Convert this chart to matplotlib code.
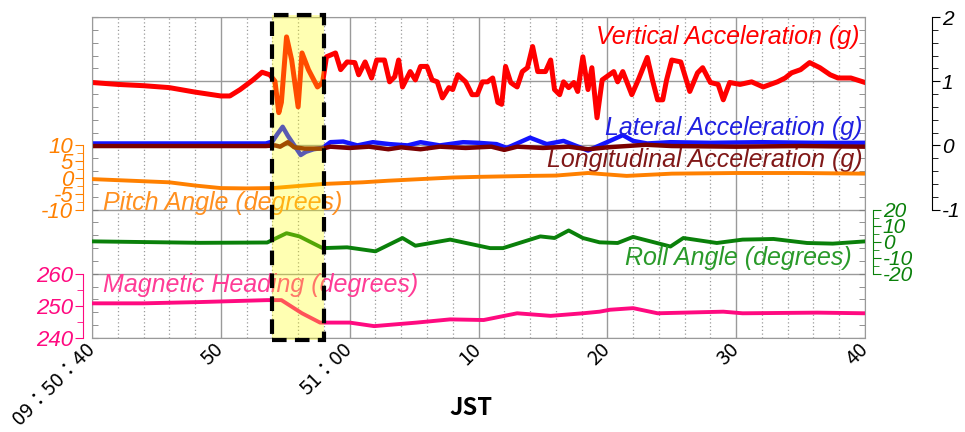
import matplotlib
matplotlib.use("Agg")
import matplotlib.pyplot as plt
from matplotlib.patches import Rectangle
from matplotlib.ticker import MultipleLocator, FixedLocator
import matplotlib.transforms as mtransforms

plt.rcParams["axes.unicode_minus"] = False

# seconds after 09:50:40 JST
vert_t = [0, 2, 4, 6, 8, 10, 10.7, 11.5, 12.5, 13.2, 13.8, 14.2, 14.5, 14.7, 15.1, 15.5, 16.0, 16.3,
          16.8, 17.5, 17.9, 18.2, 18.9, 19.3, 19.8, 20.4, 20.7, 21.2, 21.7, 22.1, 22.7, 23.1, 23.5,
          23.8, 24.1, 24.7, 25.1, 25.5, 26.0, 26.4, 26.8, 27.2, 27.7, 28.0, 28.4, 29.0, 29.5, 29.9,
          30.3, 30.7, 31.1, 31.5, 31.8, 32.1, 32.5, 32.7, 33.0, 33.4, 33.8, 34.2, 34.6, 35.2, 35.6,
          35.9, 36.3, 36.6, 37.0, 37.4, 37.7, 38.1, 38.5, 38.8, 39.2, 39.6, 40.5, 40.8, 41.2, 41.9,
          42.4, 43.1, 43.5, 43.9, 44.3, 44.6, 45.0, 45.7, 46.4, 47.0, 47.4, 48.0, 48.6, 49.0, 49.5,
          50.3, 51.2, 52.1, 53.2, 53.8, 54.3, 55.0, 55.7, 56.5, 57.3, 57.9, 58.9, 60.0]
vert_g = [0.98, 0.95, 0.93, 0.90, 0.83, 0.77, 0.77, 0.87, 1.02, 1.14, 1.10, 1.00, 0.51, 0.67, 1.69, 1.33,
          0.60, 1.44, 1.18, 0.91, 0.98, 1.38, 1.44, 1.18, 1.30, 1.29, 1.10, 1.30, 1.05, 1.33, 1.33,
          0.99, 1.07, 1.33, 0.91, 1.15, 1.02, 1.23, 1.23, 1.02, 0.99, 0.74, 0.90, 0.87, 1.10, 0.99,
          0.79, 0.79, 0.99, 0.99, 1.05, 0.67, 0.64, 1.23, 0.98, 0.95, 0.91, 1.15, 1.21, 1.54, 1.15,
          1.15, 1.33, 0.87, 0.79, 0.99, 0.90, 0.98, 0.84, 1.38, 0.87, 1.21, 0.43, 1.02, 1.15, 0.99,
          1.15, 0.79, 1.02, 1.37, 1.02, 0.71, 0.71, 1.02, 1.33, 1.30, 0.84, 1.13, 1.21, 0.98, 0.95,
          0.71, 0.98, 0.95, 0.99, 0.91, 0.99, 1.05, 1.13, 1.18, 1.29, 1.21, 1.10, 1.05, 1.05, 0.98]

lat_t = [0, 5, 10, 13.5, 14.0, 14.4, 14.8, 15.2, 15.7, 16.2, 16.6, 17.2, 17.9, 18.5, 19.5, 20.6, 21.8,
         23.1, 24.5, 25.5, 27.0, 28.8, 30.0, 31.4, 32.2, 34.0, 35.3, 36.6, 38.5, 40.2, 41.2, 42.0,
         43.1, 44.9, 48.0, 52.0, 56.0, 60.0]
lat_g = [0.03, 0.03, 0.03, 0.03, 0.06, 0.18, 0.29, 0.15, 0.0, -0.15, -0.10, -0.06, -0.04, 0.05, 0.06,
         0.0, 0.05, 0.02, 0.0, 0.05, 0.0, 0.05, 0.04, 0.02, -0.04, 0.12, 0.02, 0.07, -0.08, 0.07, 0.16,
         0.07, 0.03, 0.05, 0.04, 0.05, 0.04, 0.04]

lon_t = [0, 6, 13.5, 14.2, 14.6, 15.2, 15.7, 16.5, 17.9, 18.5, 20, 21.5, 23, 24, 25.5, 27, 29, 31, 32,
         33, 35, 37, 38.5, 40, 43, 45, 50, 55, 60]
lon_g = [-0.01, -0.01, -0.01, 0.0, -0.02, 0.05, -0.03, -0.05, -0.05, -0.02, -0.04, -0.02, -0.06, -0.03,
         -0.06, -0.02, -0.04, -0.02, -0.07, -0.02, -0.04, -0.02, -0.06, -0.03, 0.01, -0.01, -0.02,
         -0.01, -0.02]

pitch_t = [0, 3, 6, 8, 10, 12, 14, 18, 21, 23, 28, 30, 34, 36, 38.5, 41.5, 43, 45, 50, 55, 60]
pitch_deg = [-0.5, -1.0, -1.5, -2.5, -3.3, -3.4, -3.3, -2.0, -1.5, -1.0, 0.0, 0.2, 0.5, 0.6, 1.4, 0.5,
             0.8, 1.2, 1.4, 1.4, 1.2]

roll_t = [0.1, 8.4, 13.6, 15.1, 16.1, 17.9, 19.8, 22.0, 24.1, 25.1, 27.8, 30.9, 31.9, 34.8, 35.9,
          37.0, 38.1, 39.4, 40.8, 42.0, 44.9, 45.9, 48.5, 50.5, 52.9, 55.5, 57.5, 60.0]
roll_deg = [0.2, -0.7, -0.5, 5.3, 3.3, -4.0, -3.5, -6.0, 2.3, -2.5, 1.3, -4.0, -4.0, 3.3, 2.3, 7.0,
            2.3, -0.4, -0.8, 3.0, -3.0, 2.3, -0.8, 1.3, 1.7, -0.8, -1.2, 0.2]

hdg_t = [0, 4, 8.4, 13.6, 14.7, 16.3, 17.7, 20, 21.9, 25.2, 27.8, 30.4, 33, 35.6, 38.1, 39.4, 40.2,
         42.0, 43.9, 49, 50.5, 56.3, 60]
hdg_deg = [250.8, 250.8, 251.2, 251.8, 251.8, 247.7, 244.8, 244.8, 243.7, 244.8, 245.8, 245.6, 247.7,
           246.9, 247.7, 248.2, 248.8, 249.3, 247.7, 248.2, 247.7, 247.9, 247.7]

xtick_pos = [0, 10, 20, 30, 40, 50, 60]
xtick_labels = ["09：50：40", "50", "51：00", "10", "20", "30", "40"]
event_span = (14.0, 18.0)

c_vert, c_lat, c_lon = "#ff0000", "#1414ff", "#7a0000"
c_pitch, c_roll, c_hdg = "#ff8000", "#0a800a", "#ff0a80"

it = dict(family="Liberation Sans", style="italic")

fig = plt.figure(figsize=(9.65, 4.32), dpi=100)
ax = fig.add_axes([92 / 965, 1 - 338 / 432, 773 / 965, 321 / 432])
ax_p = ax.twinx()
ax_h = ax.twinx()
ax_r = ax.twinx()
ax_a = ax.twinx()

# main frame: accelerations
ax.set_xlim(0, 60)
ax.set_ylim(-3, 2)
ax.plot(vert_t, vert_g, color=c_vert, lw=3.6, solid_joinstyle="round")
ax.plot(lat_t, lat_g, color=c_lat, lw=3.2)
ax.plot(lon_t, lon_g, color=c_lon, lw=3.2)
ax.xaxis.set_major_locator(FixedLocator(xtick_pos))
ax.xaxis.set_minor_locator(MultipleLocator(2))
ax.set_xticklabels(xtick_labels, rotation=45, ha="right", va="center", rotation_mode="anchor",
                   family="Noto Sans CJK JP", fontsize=14.5)
ax.tick_params(axis="x", which="both", length=0, pad=6)
ax.yaxis.set_major_locator(MultipleLocator(1))
ax.yaxis.set_minor_locator(MultipleLocator(0.2))
ax.tick_params(axis="y", which="both", left=True, right=True, direction="in",
               labelleft=False, labelright=False, length=4, color="#808080")
ax.grid(True, which="major", color="#9a9a9a", lw=1.0)
ax.grid(True, which="minor", axis="x", color="#9a9a9a", lw=0.9, ls=(0, (1, 2)))
for s in ax.spines.values():
    s.set_color("#9a9a9a")
ax.set_xlabel("JST", family="Noto Sans CJK JP", fontsize=17, fontweight="bold")
ax.xaxis.set_label_coords(0.49, -0.18)


def side_axis(a, lim, bounds, side, pos, major, minor, color, size):
    a.set_ylim(*lim)
    for k, s in a.spines.items():
        s.set_visible(k == side)
    sp = a.spines[side]
    sp.set_position(("axes", pos))
    sp.set_bounds(*bounds)
    sp.set_color(color)
    if side == "left":
        a.yaxis.set_ticks_position("left")
        a.yaxis.set_label_position("left")
    else:
        a.yaxis.set_ticks_position("right")
    a.yaxis.set_major_locator(FixedLocator(major))
    a.yaxis.set_minor_locator(FixedLocator(minor))
    a.tick_params(axis="y", which="major", direction="out", length=6, colors=color, pad=1,
                  labelsize=size)
    a.tick_params(axis="y", which="minor", direction="out", length=4, color=color)
    for lab in a.get_yticklabels():
        lab.set_family("Liberation Sans")
        lab.set_style("italic")


# pitch
side_axis(ax_p, (-50, 50), (-10, 10), "left", -0.0116, [-10, -5, 0, 5, 10], [-7.5, -2.5, 2.5, 7.5],
          c_pitch, 16)
ax_p.plot(pitch_t, pitch_deg, color=c_pitch, lw=2.8)
# heading
side_axis(ax_h, (240, 340), (240, 260), "left", -0.0116, [240, 250, 260], [245, 255], c_hdg, 16)
ax_h.plot(hdg_t, hdg_deg, color=c_hdg, lw=2.8)
# roll
side_axis(ax_r, (-60, 140), (-20, 20), "right", 1.0103, [-20, -10, 0, 10, 20], [-15, -5, 5, 15],
          c_roll, 15)
ax_r.plot(roll_t, roll_deg, color=c_roll, lw=2.8)
# acceleration scale on the far right
side_axis(ax_a, (-3, 2), (-1, 2), "right", 1.0867, [-1, 0, 1, 2],
          [v / 5 for v in range(-5, 10) if v % 5], "black", 15)

# series names
ax.text(59.6, 1.69, "Vertical Acceleration (g)", color=c_vert, fontsize=18, ha="right", va="center", **it)
ax.text(59.8, 0.27, "Lateral Acceleration (g)", color="#2020e0", fontsize=18, ha="right", va="center", **it)
ax.text(59.8, -0.23, "Longitudinal Acceleration (g)", color="#801818", fontsize=18, ha="right",
        va="center", **it)
ax_p.text(0.85, -7.9, "Pitch Angle (degrees)", color="#ff9020", fontsize=18, ha="left", va="center", **it)
ax_r.text(59.0, -10.2, "Roll Angle (degrees)", color="#2a9a2a", fontsize=18, ha="right", va="center", **it)
ax_h.text(0.85, 256.5, "Magnetic Heading (degrees)", color="#ff3c96", fontsize=18, ha="left",
          va="center", **it)

# highlighted event window
tr = mtransforms.blended_transform_factory(ax_a.transData, ax_a.transAxes)
ax_a.add_patch(Rectangle((event_span[0], -0.006), event_span[1] - event_span[0], 1.012, transform=tr,
                         facecolor="#ffff00", alpha=0.3, edgecolor="none", clip_on=False, zorder=5))
ax_a.add_patch(Rectangle((event_span[0], -0.006), event_span[1] - event_span[0], 1.012, transform=tr,
                         facecolor="none", edgecolor="black", lw=3, ls=(0, (3.5, 2)), clip_on=False,
                         zorder=6))

fig.savefig("out.png", dpi=100)
